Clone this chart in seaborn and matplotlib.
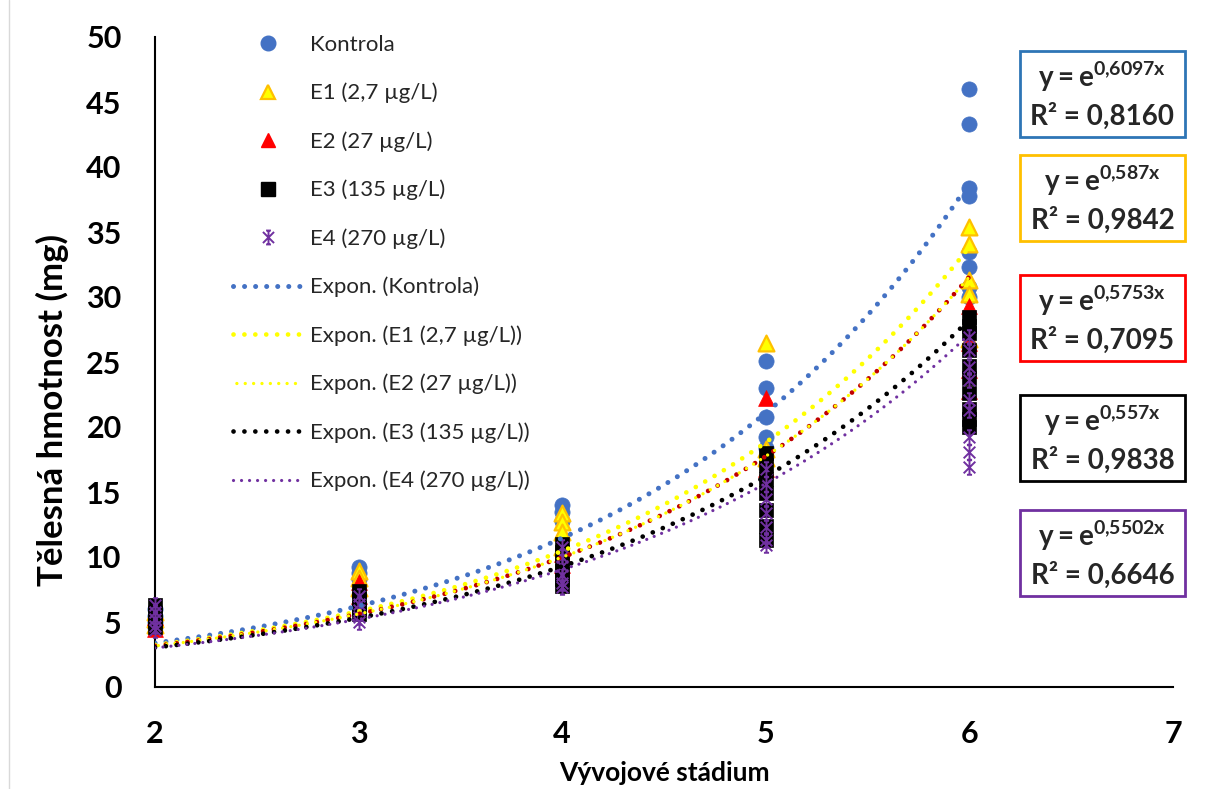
import numpy as np
import pandas as pd
import matplotlib
matplotlib.use("Agg")
import matplotlib.pyplot as plt
import seaborn as sns
from matplotlib.lines import Line2D
from matplotlib.patches import Rectangle
from matplotlib.path import Path

# ---------------- data ----------------
labels = ["Kontrola", "E1 (2,7 µg/L)", "E2 (27 µg/L)", "E3 (135 µg/L)", "E4 (270 µg/L)"]

kontrola_stage = [2, 2, 2, 2, 3, 3, 3, 4, 4, 4, 5, 5, 5, 5, 5, 6, 6, 6, 6, 6, 6, 6, 6]
kontrola_mass = [6.0, 5.5, 5.0, 4.6, 9.2, 8.8, 8.3, 14.0, 13.5, 12.8, 25.1, 23.0, 20.8, 19.2, 18.4,
                 46.0, 43.3, 38.4, 37.8, 33.5, 32.3, 30.8, 30.0]

e1_stage = [2, 2, 2, 3, 3, 3, 4, 4, 4, 4, 5, 5, 5, 6, 6, 6, 6, 6]
e1_mass = [5.8, 5.2, 4.8, 8.9, 8.4, 7.6, 13.4, 12.7, 11.9, 10.8, 26.5, 18.3, 17.6,
           35.4, 34.1, 31.3, 30.2, 26.8]

e2_stage = [2, 2, 3, 3, 4, 4, 5, 5, 6, 6, 6, 6]
e2_mass = [5.4, 4.5, 8.1, 7.0, 10.2, 9.4, 22.2, 16.8, 29.3, 26.5, 24.4, 22.8]

e3_stage = [2, 2, 2, 2, 3, 3, 3, 3, 4, 4, 4, 4, 4, 4, 5, 5, 5, 5, 5, 5, 5,
            6, 6, 6, 6, 6, 6, 6, 6, 6, 6]
e3_mass = [6.3, 5.7, 5.1, 4.6, 7.4, 6.8, 6.1, 5.6, 11.0, 10.4, 9.6, 8.9, 8.3, 7.8,
           18.0, 17.1, 16.0, 14.9, 13.6, 12.4, 11.3,
           28.5, 27.8, 27.2, 25.9, 24.7, 23.8, 22.6, 21.4, 20.6, 20.0]

e4_stage = [2, 2, 2, 2, 2, 3, 3, 3, 3, 3, 4, 4, 4, 4, 4, 4, 5, 5, 5, 5, 5, 5, 5,
            6, 6, 6, 6, 6, 6, 6, 6, 6]
e4_mass = [6.3, 5.8, 5.2, 4.7, 4.4, 7.0, 6.4, 5.9, 5.4, 5.0, 10.8, 10.0, 9.3, 8.6, 8.0, 7.7,
           16.8, 15.6, 14.5, 13.4, 12.3, 11.3, 10.9,
           26.9, 25.9, 24.6, 23.6, 22.1, 21.3, 19.2, 18.1, 16.9]

trend_b = [0.6097, 0.587, 0.5753, 0.557, 0.5502]
trend_b_text = ["0,6097", "0,587", "0,5753", "0,557", "0,5502"]
r2_text = ["0,8160", "0,9842", "0,7095", "0,9838", "0,6646"]

x_ticks = [2, 3, 4, 5, 6, 7]
y_ticks = [0, 5, 10, 15, 20, 25, 30, 35, 40, 45, 50]

# ---------------- style ----------------
sns.set_style("white")
plt.rcParams["font.family"] = ["Lato", "DejaVu Sans"]
plt.rcParams["mathtext.fontset"] = "custom"
plt.rcParams["mathtext.bf"] = "Lato:bold"
plt.rcParams["mathtext.rm"] = "Lato:bold"
plt.rcParams["mathtext.it"] = "Lato:bold"

W, H = 1208, 789
fig = plt.figure(figsize=(W / 100, H / 100), dpi=100)
ax = fig.add_axes([155 / W, (H - 687) / H, (1173 - 155) / W, (687 - 37) / H])

# star marker like Excel (X + vertical bar + caps)
star = Path([(-0.8, -0.8), (0.8, 0.8), (-0.8, 0.8), (0.8, -0.8), (0, -1), (0, 1),
             (-0.35, 1), (0.35, 1), (-0.35, -1), (0.35, -1)],
            [Path.MOVETO, Path.LINETO, Path.MOVETO, Path.LINETO, Path.MOVETO, Path.LINETO,
             Path.MOVETO, Path.LINETO, Path.MOVETO, Path.LINETO])

blue = "#4472C4"
series = [
    (kontrola_stage, kontrola_mass, dict(marker="o", s=120, color=blue, edgecolor=blue, linewidth=0.5)),
    (e1_stage, e1_mass, dict(marker="^", s=130, color="#FFFF00", edgecolor="#FFC000", linewidth=1.6)),
    (e2_stage, e2_mass, dict(marker="^", s=130, color="#FF0000", edgecolor="#FF0000", linewidth=0.5)),
    (e3_stage, e3_mass, dict(marker="s", s=100, color="#000000", edgecolor="#000000", linewidth=0.5)),
    (e4_stage, e4_mass, dict(marker=star, s=110, color="#7030A0", edgecolor="#7030A0", linewidth=1.4)),
]
for i, (xs, ys, kw) in enumerate(series):
    df = pd.DataFrame({"stage": xs, "mass": ys})
    sns.scatterplot(data=df, x="stage", y="mass", ax=ax, zorder=3 + i, legend=False,
                    clip_on=False, **kw)

# exponential trendlines  y = e^(b x)
xg = np.linspace(2, 6, 200)
trend_styles = [
    [dict(color=blue, lw=3.6, ls=(0, (0.01, 2.2)))],
    [dict(color="#FFFF00", lw=3.4, ls=(0, (0.01, 2.3)))],
    [dict(color="#C00000", lw=3.4, ls=(0, (0.01, 2.3))),
     dict(color="#FFFF00", lw=2.4, ls=(1.5, (0.01, 2.5)))],
    [dict(color="#000000", lw=3.4, ls=(0, (0.01, 2.3)))],
    [dict(color="#7030A0", lw=2.3, ls=(0, (0.01, 2.5)))],
]
legend_lines = []
for b, styles in zip(trend_b, trend_styles):
    tdf = pd.DataFrame({"x": xg, "y": np.exp(b * xg)})
    for st in styles:
        sns.lineplot(data=tdf, x="x", y="y", ax=ax, color=st["color"], linewidth=st["lw"],
                     linestyle=st["ls"], dash_capstyle="round", zorder=10,
                     estimator=None, sort=False, legend=False)
    last = styles[-1]
    legend_lines.append(Line2D([], [], color=last["color"], lw=last["lw"], linestyle=last["ls"],
                               dash_capstyle="round"))

# axes
ax.set_xlim(2, 7)
ax.set_ylim(0, 50)
ax.set_xticks(x_ticks)
ax.set_yticks(y_ticks)
ax.set_xticklabels([str(v) for v in x_ticks], fontweight="bold")
ax.set_yticklabels([str(v) for v in y_ticks], fontweight="bold")
ax.tick_params(axis="both", direction="in", length=8.5, width=1.3, labelsize=22,
               color="black", labelcolor="black")
ax.tick_params(axis="x", pad=24)
ax.tick_params(axis="y", pad=24)
for side in ["top", "right"]:
    ax.spines[side].set_visible(False)
for side in ["left", "bottom"]:
    ax.spines[side].set_color("black")
    ax.spines[side].set_linewidth(1.5)
ax.grid(False)

ax.set_xlabel("Vývojové stádium", fontsize=19, fontweight="bold", color="black")
ax.xaxis.set_label_coords(0.5, -0.114)
ax.set_ylabel("Tělesná hmotnost (mg)", fontsize=25, fontweight="bold", color="black")
ax.yaxis.set_label_coords(-0.084, 0.426)

# legend
marker_handles = [
    Line2D([], [], ls="none", marker="o", ms=10.5, mfc=blue, mec=blue),
    Line2D([], [], ls="none", marker="^", ms=10.5, mfc="#FFFF00", mec="#FFC000", mew=1.6),
    Line2D([], [], ls="none", marker="^", ms=10.5, mfc="#FF0000", mec="#FF0000"),
    Line2D([], [], ls="none", marker="s", ms=10, mfc="#000000", mec="#000000"),
    Line2D([], [], ls="none", marker=star, ms=10, mfc="#7030A0", mec="#7030A0", mew=1.4),
]
handles = marker_handles + legend_lines
leg_labels = labels + ["Expon. (" + l + ")" for l in labels]
fig.legend(handles, leg_labels, loc="upper left",
           bbox_to_anchor=(233 / W, 1 - 35 / H), bbox_transform=fig.transFigure,
           frameon=False, fontsize=16, handlelength=3.15, handletextpad=0.3,
           labelspacing=1.255, borderpad=0, borderaxespad=0)

# equation boxes
box_colors = ["#2E75B6", "#FFC000", "#FF0000", "#000000", "#7030A0"]
box_tops = [51, 155, 275, 395, 510]
bx0, bx1, bh = 1020, 1185, 86
for col, top, bt, r2 in zip(box_colors, box_tops, trend_b_text, r2_text):
    fig.add_artist(Rectangle((bx0 / W, 1 - (top + bh) / H), (bx1 - bx0) / W, bh / H,
                             transform=fig.transFigure, facecolor="white", edgecolor=col,
                             lw=2, zorder=20))
    cx = (bx0 + bx1) / 2 / W
    fig.text(cx, 1 - (top + 36) / H, r"$\mathbf{y = e^{%s x}}$" % bt.replace(",", "{,}"),
             ha="center", va="baseline", fontsize=20, fontweight="bold", zorder=21)
    fig.text(cx, 1 - (top + 74) / H, "R² = " + r2, ha="center", va="baseline",
             fontsize=20, fontweight="bold", zorder=21)

# faint chart-area border at left
fig.add_artist(Line2D([9 / W, 9 / W], [0, 1], transform=fig.transFigure, color="#D9D9D9", lw=1))

fig.savefig("out.png", dpi=100)
